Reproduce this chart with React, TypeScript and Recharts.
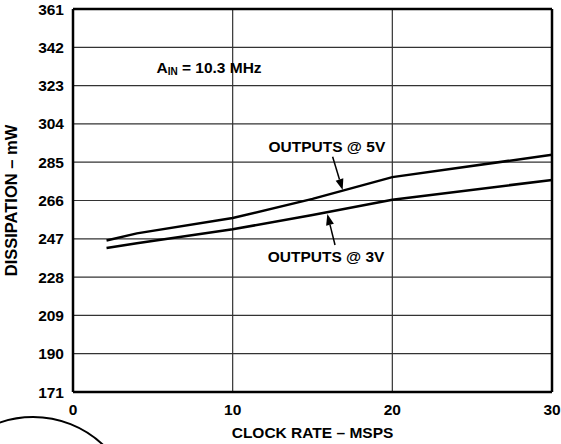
import React from 'react';
import { LineChart, Line, XAxis, YAxis, CartesianGrid, ReferenceLine, ReferenceDot } from 'recharts';

// clock rate (MSPS)
const clockRate = [2.1, 4, 10, 15, 20, 30];
// dissipation (mW), outputs at 5V
const out5V = [246.2, 249.7, 257.3, 266.8, 277.6, 288.7];
// dissipation (mW), outputs at 3V
const out3V = [242.4, 244.8, 251.7, 258.8, 266.4, 276.2];

const xTicks = [0, 10, 20, 30];
const yTicks = [171, 190, 209, 228, 247, 266, 285, 304, 323, 342, 361];

const data = clockRate.map((x, i) => ({ x, v5: out5V[i], v3: out3V[i] }));

const FONT = '"Liberation Sans", Arial, sans-serif';
const FS = 15.5;

const Arrow = (props: any) => {
  const { x1, y1, x2, y2 } = props;
  if (x1 == null) return null;
  const ang = Math.atan2(y2 - y1, x2 - x1);
  const len = 11;
  const w = 4;
  const bx = x2 - len * Math.cos(ang);
  const by = y2 - len * Math.sin(ang);
  const px = -Math.sin(ang) * w;
  const py = Math.cos(ang) * w;
  return (
    <g>
      <line x1={x1} y1={y1} x2={bx} y2={by} stroke="#000" strokeWidth={1.5} />
      <polygon points={`${x2},${y2} ${bx + px},${by + py} ${bx - px},${by - py}`} fill="#000" />
    </g>
  );
};

const TextAt = (text: React.ReactNode) => (props: any) => (
  <text x={props.cx} y={props.cy} textAnchor="middle" dominantBaseline="central"
    fontFamily={FONT} fontWeight="bold" fontSize={FS} fill="#000">
    {text}
  </text>
);

const App: React.FC = () => {
  return (
    <div style={{ position: 'absolute', left: 0, top: 0, width: 561, height: 444, background: '#fff' }}>
      <LineChart width={561} height={444} data={data} margin={{ top: 9, right: 9, left: 0, bottom: 0 }}>
        <CartesianGrid stroke="#333" strokeWidth={1.2} />
        <XAxis
          dataKey="x" type="number" domain={[0, 30]} ticks={xTicks} height={52}
          axisLine={{ stroke: '#000', strokeWidth: 2.5 }} tickLine={false} tickMargin={6}
          tick={{ fontFamily: FONT, fontWeight: 'bold', fontSize: FS, fill: '#000' }}
          label={{ value: 'CLOCK RATE – MSPS', position: 'insideBottom', offset: 6, style: { fontFamily: FONT, fontWeight: 'bold', fontSize: FS, fill: '#000' } }}
        />
        <YAxis
          type="number" domain={[171, 361]} ticks={yTicks} width={73}
          axisLine={{ stroke: '#000', strokeWidth: 2.5 }} tickLine={false} tickMargin={3}
          tick={{ fontFamily: FONT, fontWeight: 'bold', fontSize: FS, fill: '#000' }}
          label={{ value: 'DISSIPATION – mW', angle: -90, position: 'insideLeft', offset: 11, style: { textAnchor: 'middle', fontFamily: FONT, fontWeight: 'bold', fontSize: 16.5, fill: '#000' } }}
        />
        <ReferenceLine x={30} stroke="#000" strokeWidth={2.5} />
        <ReferenceLine y={361} stroke="#000" strokeWidth={2.5} />
        <Line dataKey="v5" stroke="#000" strokeWidth={2.5} dot={false} isAnimationActive={false} />
        <Line dataKey="v3" stroke="#000" strokeWidth={2.5} dot={false} isAnimationActive={false} />
        <ReferenceLine segment={[{ x: 16.26, y: 287.7 }, { x: 16.89, y: 271.2 }]} shape={Arrow} />
        <ReferenceLine segment={[{ x: 16.41, y: 243.9 }, { x: 15.93, y: 259.3 }]} shape={Arrow} />
        <ReferenceDot x={15.9} y={292.7} r={0} shape={TextAt('OUTPUTS @ 5V')} />
        <ReferenceDot x={15.85} y={238.1} r={0} shape={TextAt('OUTPUTS @ 3V')} />
        <ReferenceDot x={8.52} y={332.2} r={0} shape={TextAt(
          <>A<tspan fontSize={10} dy={4}>IN</tspan><tspan dy={-4}> = 10.3 MHz</tspan></>
        )} />
      </LineChart>
      <svg width={561} height={444} style={{ position: 'absolute', left: 0, top: 0, pointerEvents: 'none' }}>
        <circle cx={33} cy={519} r={102} fill="none" stroke="#000" strokeWidth={2} />
      </svg>
    </div>
  );
};

export default App;
